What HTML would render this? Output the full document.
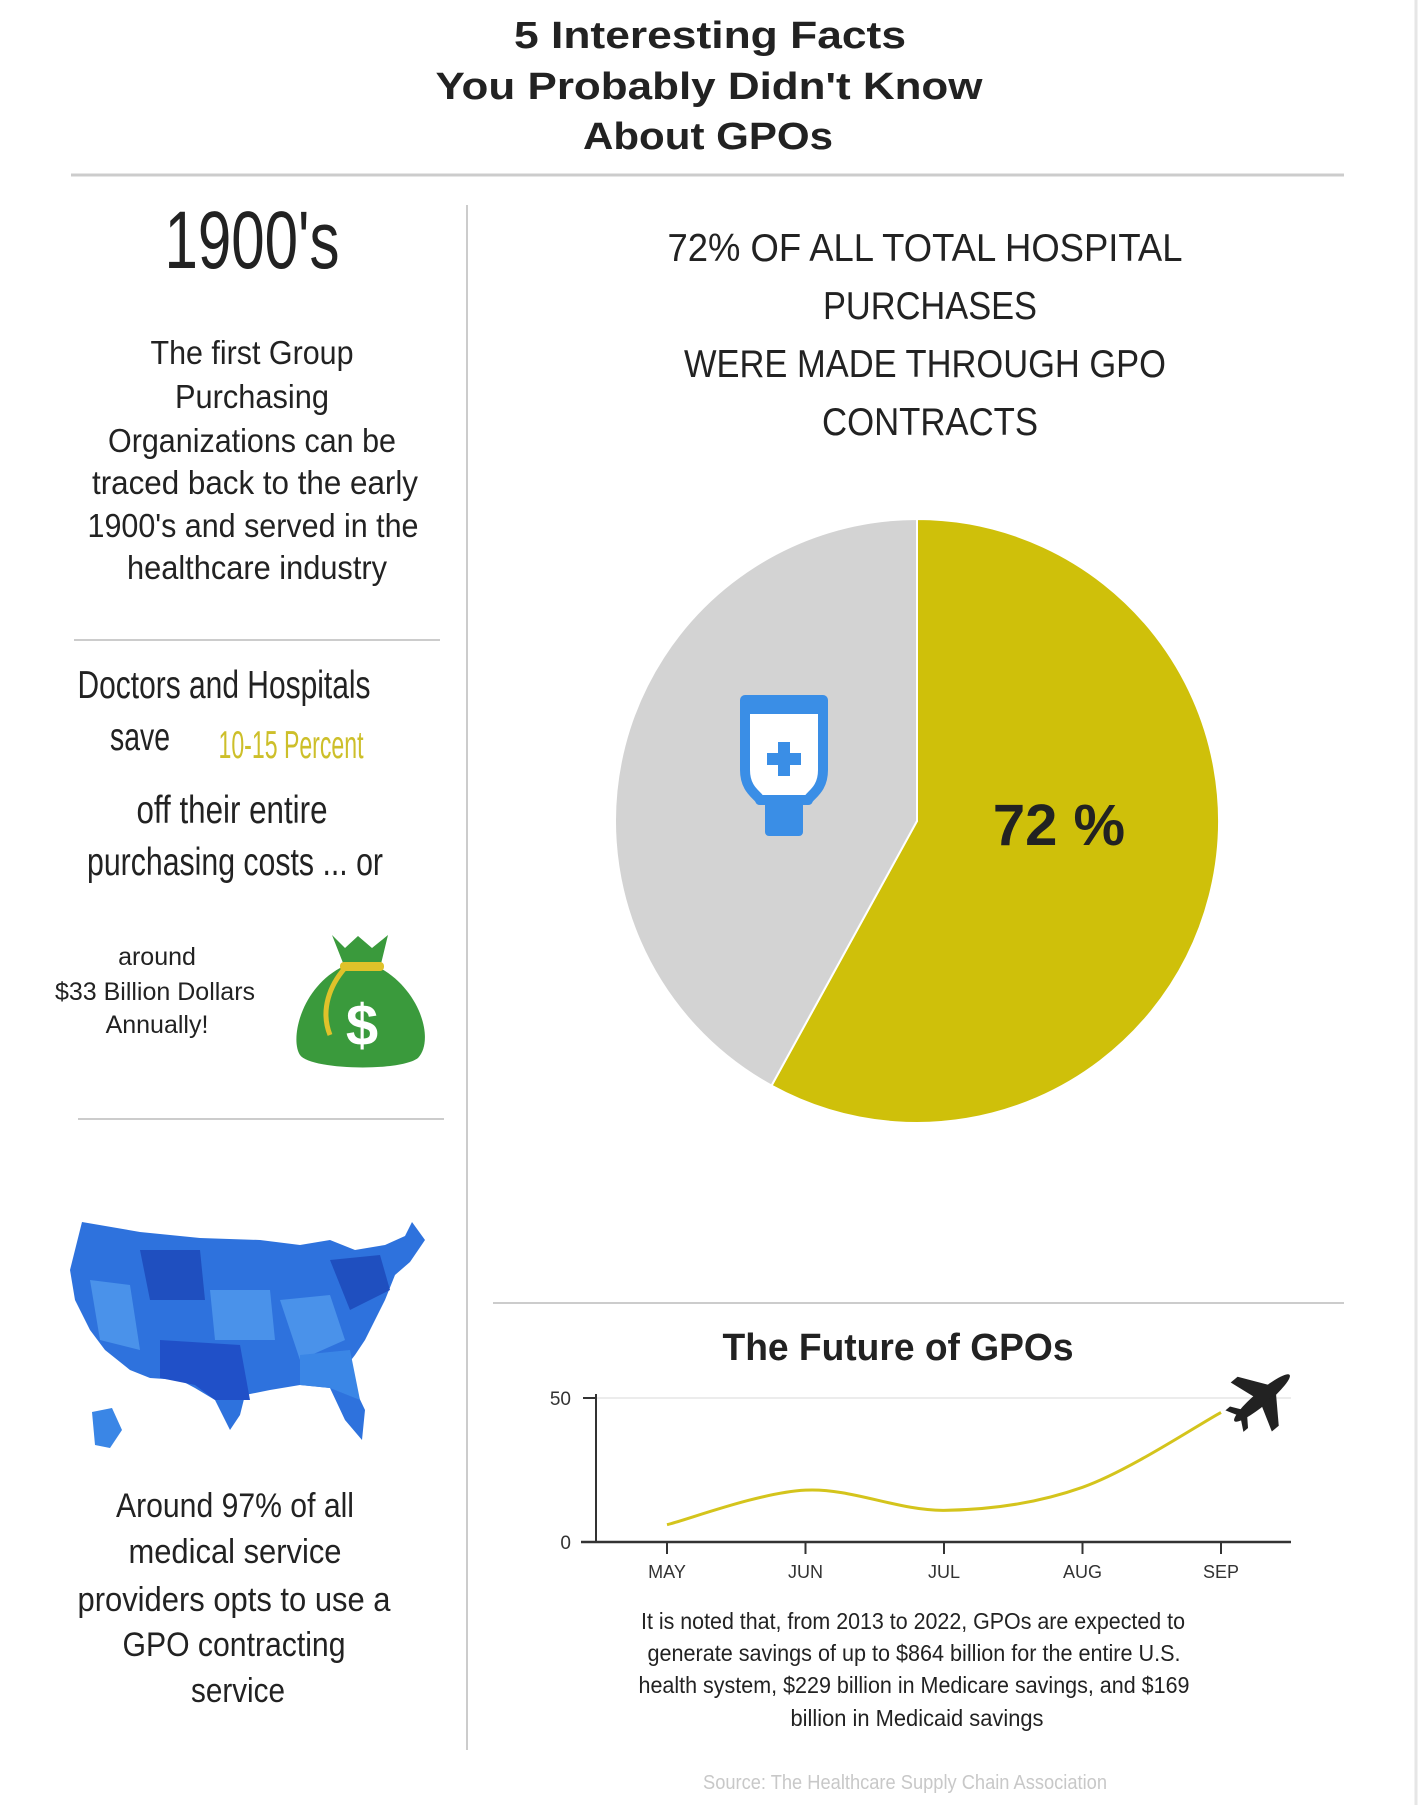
<!DOCTYPE html>
<html><head><meta charset="utf-8"><style>
html,body{margin:0;padding:0;background:#fff;}
svg{display:block;}
text{font-family:"Liberation Sans",sans-serif;}
</style></head><body>
<svg id="root" width="1419" height="1805" viewBox="0 0 1419 1805" xmlns="http://www.w3.org/2000/svg">
<rect x="0" y="0" width="1419" height="1805" fill="#fff"/>
<line x1="1416" y1="0" x2="1416" y2="1805" stroke="#e6e6e6" stroke-width="3"/>
<g fill="#222" font-weight="bold" font-size="38" text-anchor="middle">
<text x="710" y="48" textLength="392" lengthAdjust="spacingAndGlyphs">5 Interesting Facts</text>
<text x="709" y="99" textLength="547" lengthAdjust="spacingAndGlyphs">You Probably Didn't Know</text>
<text x="708" y="149" textLength="250" lengthAdjust="spacingAndGlyphs">About GPOs</text>
</g>
<line x1="71" y1="175" x2="1344" y2="175" stroke="#ccc" stroke-width="3"/>
<line x1="467" y1="205" x2="467" y2="1750" stroke="#ccc" stroke-width="2"/>

<text x="252" y="268" font-size="82" fill="#222" text-anchor="middle" textLength="175" lengthAdjust="spacingAndGlyphs">1900's</text>
<g fill="#222" font-size="33" text-anchor="middle">
<text x="252" y="364" textLength="203" lengthAdjust="spacingAndGlyphs">The first Group</text>
<text x="252" y="408" textLength="154" lengthAdjust="spacingAndGlyphs">Purchasing</text>
<text x="252" y="452" textLength="288" lengthAdjust="spacingAndGlyphs">Organizations can be</text>
<text x="255" y="494" textLength="326" lengthAdjust="spacingAndGlyphs">traced back to the early</text>
<text x="253" y="537" textLength="331" lengthAdjust="spacingAndGlyphs">1900's and served in the</text>
<text x="257" y="579" textLength="260" lengthAdjust="spacingAndGlyphs">healthcare industry</text>
</g>
<line x1="74" y1="640" x2="440" y2="640" stroke="#ccc" stroke-width="2"/>
<g fill="#222" font-size="39" text-anchor="middle">
<text x="224" y="698" textLength="293" lengthAdjust="spacingAndGlyphs">Doctors and Hospitals</text>
<text x="140" y="750" textLength="60" lengthAdjust="spacingAndGlyphs">save</text>
<text x="291" y="758" fill="#cdbf2a" textLength="145" lengthAdjust="spacingAndGlyphs">10-15 Percent</text>
<text x="232" y="823" textLength="191" lengthAdjust="spacingAndGlyphs">off their entire</text>
<text x="235" y="875" textLength="296" lengthAdjust="spacingAndGlyphs">purchasing  costs ... or</text>
</g>
<g fill="#222" font-size="25" text-anchor="middle">
<text x="157" y="965">around</text>
<text x="155" y="1000">$33 Billion Dollars</text>
<text x="157" y="1033">Annually!</text>
</g>
<g>
<path d="M340 968 C300 990 290 1040 300 1055 C310 1070 400 1072 418 1058 C435 1040 420 990 380 968 Z" fill="#3a9a3c"/>
<path d="M332 935 L345 948 L358 936 L372 948 L388 935 L380 968 L345 968 Z" fill="#3a9a3c"/>
<rect x="340" y="962" width="44" height="9" rx="4" fill="#e0c22a"/>
<path d="M345 968 C330 985 320 1010 330 1035" stroke="#e0c22a" stroke-width="5" fill="none"/>
<text x="362" y="1045" font-size="58" font-weight="bold" fill="#fff" text-anchor="middle">$</text>
</g>
<line x1="78" y1="1119" x2="444" y2="1119" stroke="#ccc" stroke-width="2"/>
<g>
<path d="M82 1222 L140 1232 L200 1238 L260 1240 L300 1245 L330 1240 L355 1250 L385 1245 L405 1236 L412 1222 L425 1240 L410 1262 L395 1275 L385 1300 L375 1320 L365 1340 L355 1355 L345 1368 L365 1410 L362 1440 L345 1420 L330 1388 L300 1385 L270 1390 L245 1395 L240 1415 L230 1430 L215 1400 L195 1388 L180 1380 L150 1378 L130 1370 L105 1350 L90 1330 L75 1300 L70 1270 Z" fill="#2e72dd"/>
<path d="M140 1250 L200 1250 L205 1300 L150 1300 Z" fill="#1f4fbf"/>
<path d="M210 1290 L270 1290 L275 1340 L215 1340 Z" fill="#4a92ea"/>
<path d="M90 1280 L130 1285 L140 1350 L100 1340 Z" fill="#4a92ea"/>
<path d="M160 1340 L240 1345 L250 1400 L215 1400 L195 1385 L160 1378 Z" fill="#2050c8"/>
<path d="M280 1300 L330 1295 L345 1340 L300 1360 Z" fill="#4a92ea"/>
<path d="M330 1260 L380 1255 L390 1290 L350 1310 Z" fill="#1f4fbf"/>
<path d="M300 1355 L350 1350 L360 1400 L330 1388 L300 1385 Z" fill="#3a86e6"/>
<path d="M92 1412 L112 1408 L122 1430 L110 1448 L95 1445 Z" fill="#3a86e6"/>
</g>
<g fill="#222" font-size="34" text-anchor="middle">
<text x="235" y="1517" textLength="238" lengthAdjust="spacingAndGlyphs">Around 97% of all</text>
<text x="235" y="1563" textLength="213" lengthAdjust="spacingAndGlyphs">medical service</text>
<text x="234" y="1611" textLength="313" lengthAdjust="spacingAndGlyphs">providers opts to use a</text>
<text x="234" y="1656" textLength="223" lengthAdjust="spacingAndGlyphs">GPO contracting</text>
<text x="238" y="1702" textLength="94" lengthAdjust="spacingAndGlyphs">service</text>
</g>

<g fill="#222" font-size="39" text-anchor="middle">
<text x="925" y="261" textLength="515" lengthAdjust="spacingAndGlyphs">72% OF ALL TOTAL HOSPITAL</text>
<text x="930" y="319" textLength="214" lengthAdjust="spacingAndGlyphs">PURCHASES</text>
<text x="925" y="377" textLength="482" lengthAdjust="spacingAndGlyphs">WERE MADE THROUGH GPO</text>
<text x="930" y="435" textLength="216" lengthAdjust="spacingAndGlyphs">CONTRACTS</text>
</g>
<g id="pie"></g>
<g>
<path d="M745 700 L823 700 L823 770 C823 790 810 795 808 800 L760 800 C758 795 745 790 745 770 Z" fill="#fff" stroke="#3a8ee6" stroke-width="10" stroke-linejoin="round"/>
<rect x="743" y="698" width="82" height="16" rx="5" fill="#3a8ee6"/>
<rect x="765" y="800" width="38" height="36" rx="4" fill="#3a8ee6"/>
<rect x="778" y="742" width="12" height="34" fill="#3a8ee6"/>
<rect x="767" y="753" width="34" height="12" fill="#3a8ee6"/>
</g>
<text x="1059" y="845" font-size="58" font-weight="bold" fill="#222" text-anchor="middle">72 %</text>

<line x1="493" y1="1303" x2="1344" y2="1303" stroke="#ccc" stroke-width="2"/>
<text x="898" y="1360" font-size="38" font-weight="bold" fill="#222" text-anchor="middle" textLength="351" lengthAdjust="spacingAndGlyphs">The Future of GPOs</text>
<g id="chart"></g>
<g fill="#222" transform="translate(1262,1398) rotate(-40)">
<ellipse cx="0" cy="0" rx="36" ry="7"/>
<path d="M-5 -5 L-14 -32 L-5 -32 L14 -5 Z"/>
<path d="M-5 5 L-14 32 L-5 32 L14 5 Z"/>
<path d="M-30 -3 L-36 -14 L-30 -14 L-22 -3 Z"/>
<path d="M-30 3 L-36 14 L-30 14 L-22 3 Z"/>
</g>
<g fill="#222" font-size="23" text-anchor="middle">
<text x="913" y="1629" textLength="544" lengthAdjust="spacingAndGlyphs">It is noted that, from 2013 to 2022, GPOs are expected to</text>
<text x="914" y="1661" textLength="533" lengthAdjust="spacingAndGlyphs">generate savings of up to $864 billion for the entire U.S.</text>
<text x="914" y="1693" textLength="551" lengthAdjust="spacingAndGlyphs">health system, $229 billion in Medicare savings, and $169</text>
<text x="917" y="1726" textLength="253" lengthAdjust="spacingAndGlyphs">billion in Medicaid savings</text>
</g>
<text x="905" y="1789" font-size="20" fill="#c8c8c8" text-anchor="middle" textLength="404" lengthAdjust="spacingAndGlyphs">Source: The Healthcare Supply Chain Association</text>
</svg>
<script>
const pieLabels = ["GPO contracts", "Other"];
const pieValues = [58, 42];
const pieColors = ["#cfc00a", "#d3d3d3"];

const months = ["MAY", "JUN", "JUL", "AUG", "SEP"];
const savings = [6, 18, 11, 19, 45];
const yTicks = [0, 50];

const NS = "http://www.w3.org/2000/svg";
function mk(tag, attrs, parent){const e=document.createElementNS(NS,tag);for(const k in attrs)e.setAttribute(k,attrs[k]);parent.appendChild(e);return e;}

// pie
const pie = document.getElementById("pie");
const cx=917, cy=821, r=302;
const total = pieValues.reduce((a,b)=>a+b,0);
let ang = 0;
pieValues.forEach((v,i)=>{
  const a0 = ang/total*2*Math.PI, a1=(ang+v)/total*2*Math.PI; ang+=v;
  const x0=cx+r*Math.sin(a0), y0=cy-r*Math.cos(a0), x1=cx+r*Math.sin(a1), y1=cy-r*Math.cos(a1);
  const large = (a1-a0)>Math.PI?1:0;
  const p = mk("path",{d:`M${cx} ${cy} L${x0} ${y0} A${r} ${r} 0 ${large} 1 ${x1} ${y1} Z`,fill:pieColors[i],stroke:"#fff","stroke-width":2},pie);
  
  
});

// line chart
const chart = document.getElementById("chart");
const x0=667, xStep=(1221-667)/(months.length-1);
const yBase=1542, yTop=1398, yMax=50;
const xs = i => x0 + i*xStep;
const ys = v => yBase - (v/yMax)*(yBase-yTop);
yTicks.forEach(t=>{
  if(t>0){const g=mk("line",{x1:596,y1:ys(t),x2:1291,y2:ys(t),stroke:"#ececec","stroke-width":2},chart);
  
  }
  const tk=mk("line",{x1:583,y1:ys(t),x2:596,y2:ys(t),stroke:"#333","stroke-width":2},chart);
  
  
  const lb=mk("text",{x:571,y:ys(t)+7,"font-size":19,fill:"#333","text-anchor":"end"},chart);
  lb.textContent=t;
  
  
});
const ya=mk("line",{x1:596,y1:yTop-4,x2:596,y2:yBase,stroke:"#333","stroke-width":2},chart);


const xa=mk("line",{x1:581,y1:yBase,x2:1291,y2:yBase,stroke:"#333","stroke-width":2.5},chart);


months.forEach((m,i)=>{
  const tk=mk("line",{x1:xs(i),y1:yBase,x2:xs(i),y2:yBase+12,stroke:"#333","stroke-width":2},chart);
  
  
  const lb=mk("text",{x:xs(i),y:1578,"font-size":18,fill:"#333","text-anchor":"middle"},chart);
  lb.textContent=m;
  
  
});
const pts = savings.map((v,i)=>[xs(i),ys(v)]);
let d=`M${pts[0][0]} ${pts[0][1]}`;
for(let i=0;i<pts.length-1;i++){
  const p0=pts[i-1]||pts[i], p1=pts[i], p2=pts[i+1], p3=pts[i+2]||p2;
  const c1=[p1[0]+(p2[0]-p0[0])/6, p1[1]+(p2[1]-p0[1])/6];
  const c2=[p2[0]-(p3[0]-p1[0])/6, p2[1]-(p3[1]-p1[1])/6];
  d+=` C${c1[0]} ${c1[1]} ${c2[0]} ${c2[1]} ${p2[0]} ${p2[1]}`;
}
const line=mk("path",{d:d,fill:"none",stroke:"#d4c41c","stroke-width":3},chart);


</script>
</body></html>
